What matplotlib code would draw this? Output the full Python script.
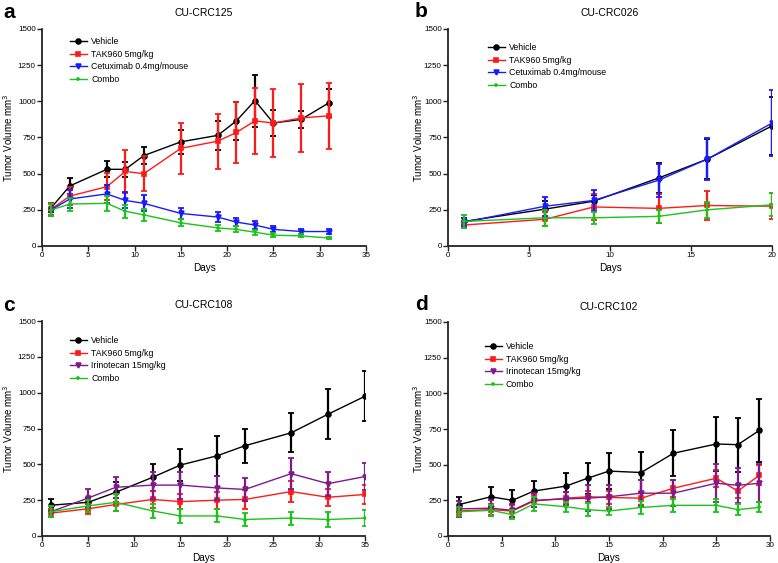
import numpy as np
import matplotlib
matplotlib.use("Agg")
import matplotlib.pyplot as plt

plt.rcParams['font.family'] = ['Liberation Sans', 'DejaVu Sans']

BLACK = '#000000'
RED = '#ff1a1a'
BLUE = '#1a1aff'
PURPLE = '#7f1a8a'
GREEN = '#1ac41a'

#-------------------panel a: CU-CRC125----------------------#
days_a = [1, 3, 7, 9, 11, 15, 19, 21, 23, 25, 28, 31]
veh_a = [265, 415, 530, 530, 625, 720, 765, 865, 1005, 850, 875, 990]
veh_a_err = [30, 55, 55, 50, 58, 82, 100, 130, 180, 90, 58, 95]
tak_a = [255, 345, 410, 515, 500, 675, 725, 785, 865, 850, 885, 900]
tak_a_err = [40, 65, 95, 150, 120, 178, 190, 210, 230, 235, 235, 230]
cet_a = [250, 325, 360, 315, 295, 225, 200, 165, 145, 115, 100, 100]
cet_a_err = [40, 60, 65, 55, 55, 38, 35, 30, 30, 20, 15, 20]
com_a = [250, 290, 295, 240, 215, 160, 125, 115, 95, 75, 70, 55]
com_a_err = [40, 45, 50, 45, 40, 25, 20, 20, 18, 15, 10, 8]

#-------------------panel b: CU-CRC026----------------------#
days_b = [1, 6, 9, 13, 16, 20]
veh_b = [170, 255, 310, 470, 600, 830]
veh_b_err = [25, 55, 45, 105, 140, 200]
tak_b = [145, 185, 270, 260, 280, 275]
tak_b_err = [20, 50, 90, 100, 100, 90]
cet_b = [165, 275, 315, 455, 600, 850]
cet_b_err = [30, 65, 75, 115, 145, 225]
com_b = [170, 195, 195, 205, 250, 285]
com_b_err = [45, 55, 40, 45, 55, 80]

#-------------------panel c: CU-CRC108----------------------#
days_c = [1, 5, 8, 12, 15, 19, 22, 27, 31, 35]
veh_c = [215, 235, 305, 410, 495, 560, 630, 720, 850, 975]
veh_c_err = [40, 30, 70, 95, 110, 140, 120, 135, 175, 175]
tak_c = [160, 190, 220, 255, 240, 250, 255, 310, 270, 290]
tak_c_err = [25, 35, 45, 60, 55, 60, 65, 75, 60, 65]
iri_c = [170, 265, 340, 355, 355, 335, 325, 435, 365, 415]
iri_c_err = [40, 60, 75, 95, 95, 85, 80, 110, 85, 95]
com_c = [170, 210, 235, 175, 140, 140, 115, 125, 115, 125]
com_c_err = [40, 40, 60, 50, 50, 45, 45, 45, 55, 55]

#-------------------panel d: CU-CRC102----------------------#
days_d = [1, 4, 6, 8, 11, 13, 15, 18, 21, 25, 27, 29]
veh_d = [220, 275, 250, 315, 350, 405, 455, 445, 580, 645, 640, 740]
veh_d_err = [55, 70, 70, 70, 95, 110, 125, 145, 160, 190, 190, 220]
tak_d = [175, 185, 175, 245, 265, 275, 270, 265, 335, 405, 315, 425]
tak_d_err = [30, 40, 40, 40, 40, 40, 45, 45, 60, 60, 50, 70]
iri_d = [190, 195, 180, 250, 260, 265, 275, 300, 300, 370, 355, 370]
iri_d_err = [55, 55, 45, 50, 45, 90, 85, 90, 90, 135, 125, 135]
com_d = [170, 180, 150, 225, 205, 185, 175, 200, 215, 215, 185, 200]
com_d_err = [30, 40, 30, 50, 35, 45, 30, 45, 45, 45, 40, 35]

labels_ab = ["Vehicle", "TAK960 5mg/kg", "Cetuximab 0.4mg/mouse", "Combo"]
labels_cd = ["Vehicle", "TAK960 5mg/kg", "Irinotecan 15mg/kg", "Combo"]
yticks = [0, 250, 500, 750, 1000, 1250, 1500]

W, H = 778, 563
fig = plt.figure(figsize=(W / 100, H / 100), dpi=100)


def make_axes(left, top, right, bottom):
    return fig.add_axes([left / W, 1 - bottom / H, (right - left) / W, (bottom - top) / H])


def panel(ax, days, series, labels, colors, markers, title, xmax, xticks, leg_xy, ylab_x):
    for (y, e), lab, c, m in zip(series, labels, colors, markers):
        ax.errorbar(days, y, yerr=e, fmt='none', ecolor=c, elinewidth=1.6,
                    capsize=2.5, capthick=1.3)
        ax.plot(days, y, color=c, marker=m, markersize=3.5, mew=1.2, lw=1.0, label=lab)
    ax.set_xlim(0, xmax)
    ax.set_ylim(0, 1500)
    ax.set_xticks(xticks)
    ax.set_yticks(yticks)
    for s in ['top', 'right']:
        ax.spines[s].set_visible(False)
    for s in ['left', 'bottom']:
        ax.spines[s].set_linewidth(1.3)
        ax.spines[s].set_color('#222222')
    ax.tick_params(labelsize=5.8, length=3.5, width=1, color='#222222', pad=1)
    ax.set_xlabel("Days", fontsize=7.2, labelpad=3)
    ax.set_ylabel("Tumor Volume mm$^3$", fontsize=7)
    ax.yaxis.set_label_coords(ylab_x, 0.5)
    ax.set_title(title, fontsize=7.5, pad=9)
    ax.legend(loc='upper left', bbox_to_anchor=(leg_xy[0] / W, 1 - leg_xy[1] / H),
              bbox_transform=fig.transFigure, frameon=False,
              fontsize=6.3, handlelength=1.9, labelspacing=0.42,
              handletextpad=0.5, borderaxespad=0, borderpad=0)


ax_a = make_axes(42, 29, 366, 246)
panel(ax_a, days_a,
      [(veh_a, veh_a_err), (tak_a, tak_a_err), (cet_a, cet_a_err), (com_a, com_a_err)],
      labels_ab, [BLACK, RED, BLUE, GREEN], ['o', 's', 'v', '+'],
      "CU-CRC125", 35, range(0, 36, 5), (70, 37), -0.083)

ax_b = make_axes(448, 29, 772, 246)
panel(ax_b, days_b,
      [(veh_b, veh_b_err), (tak_b, tak_b_err), (cet_b, cet_b_err), (com_b, com_b_err)],
      labels_ab, [BLACK, RED, BLUE, GREEN], ['o', 's', 'v', '+'],
      "CU-CRC026", 20, range(0, 21, 5), (488, 43), -0.07)

ax_c = make_axes(42, 321, 365, 536)
panel(ax_c, days_c,
      [(veh_c, veh_c_err), (tak_c, tak_c_err), (iri_c, iri_c_err), (com_c, com_c_err)],
      labels_cd, [BLACK, RED, PURPLE, GREEN], ['o', 's', 'v', '+'],
      "CU-CRC108", 35, range(0, 36, 5), (70, 336), -0.083)

ax_d = make_axes(448, 322, 770, 536)
panel(ax_d, days_d,
      [(veh_d, veh_d_err), (tak_d, tak_d_err), (iri_d, iri_d_err), (com_d, com_d_err)],
      labels_cd, [BLACK, RED, PURPLE, GREEN], ['o', 's', 'v', '+'],
      "CU-CRC102", 30, range(0, 31, 5), (485, 342), -0.07)

# panel letters
for letter, (px, py) in zip("abcd", [(3, 18), (415, 17), (3, 311), (415, 310)]):
    fig.text(px / W, 1 - py / H, letter, fontsize=15, fontweight='bold',
             ha='left', va='baseline')

fig.savefig("out.png", dpi=100)
